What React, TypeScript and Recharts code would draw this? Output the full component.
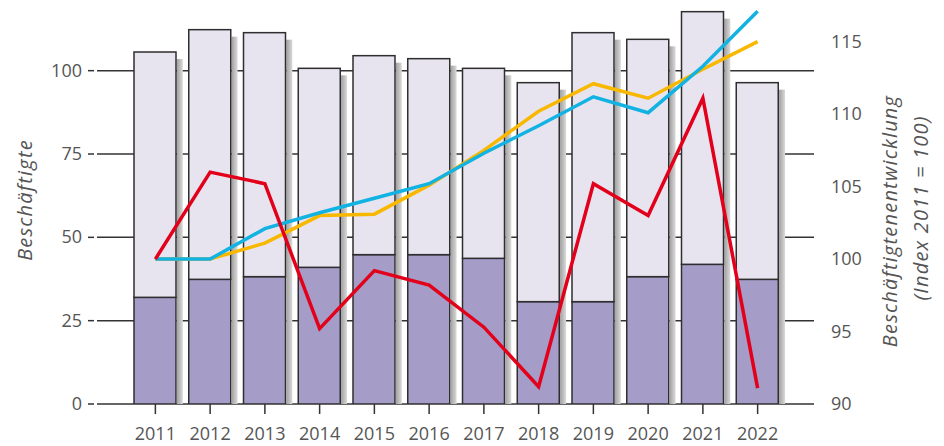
import { ComposedChart, Bar, Line, XAxis, YAxis, CartesianGrid, Label } from 'recharts'

// Jahre und Werte
const years = ['2011', '2012', '2013', '2014', '2015', '2016', '2017', '2018', '2019', '2020', '2021', '2022']
const beschaeftigteUnten = [32, 37.4, 38.2, 41, 44.8, 44.8, 43.7, 30.7, 30.7, 38.2, 41.9, 37.4]
const beschaeftigteGesamt = [105.6, 112.3, 111.4, 100.7, 104.5, 103.6, 100.7, 96.4, 111.4, 109.4, 117.7, 96.4]
const indexRot = [100, 106, 105.2, 95.2, 99.2, 98.2, 95.3, 91.2, 105.2, 103, 111.1, 91.1]
const indexBlau = [100, 100, 102.1, 103.2, 104.2, 105.2, 107.3, 109.2, 111.2, 110.1, 113.3, 117.1]
const indexGelb = [100, 100, 101.1, 103, 103.1, 105.1, 107.5, 110.2, 112.1, 111.1, 113.1, 115]

const leftTicks = [0, 25, 50, 75, 100]
const rightTicks = [90, 95, 100, 105, 110, 115]
const leftDomain = [0, 120]

const data = years.map((year, i) => ({
  year,
  unten: beschaeftigteUnten[i],
  oben: beschaeftigteGesamt[i] - beschaeftigteUnten[i],
  rot: indexRot[i],
  blau: indexBlau[i],
  gelb: indexGelb[i],
}))

const textColor = '#555'
const fontFamily = '"Open Sans", sans-serif'

const UntenShape = (props: any) => {
  const { x, y, width, height } = props
  return <rect x={x} y={y} width={width} height={height} fill="#a59cc8" stroke="#2e2e2e" strokeWidth={1.5} />
}

// oberer Teil inkl. grauem Schatten rechts
const ObenShape = (props: any) => {
  const { x, y, width, height, background } = props
  const base = background ? background.y + background.height : y + height
  return (
    <g>
      <rect x={x + width + 0.8} y={y + 7} width={6} height={Math.max(0, base - y - 7)} fill="url(#schatten)" />
      <rect x={x} y={y} width={width} height={height} fill="#e7e4f0" stroke="#2e2e2e" strokeWidth={1.5} />
    </g>
  )
}

const LeftTick = (props: any) => {
  const { x, y, payload } = props
  return (
    <g>
      <text x={x - 15} y={y} dy={6} textAnchor="end" fill={textColor} fontSize={18} fontFamily={fontFamily}>
        {payload.value}
      </text>
      <line x1={x - 9} x2={x - 3} y1={y} y2={y} stroke="#333" strokeWidth={1.5} />
    </g>
  )
}

const RightTick = (props: any) => {
  const { x, y, payload } = props
  return (
    <text x={x + 17} y={y} dy={6} textAnchor="start" fill={textColor} fontSize={18} fontFamily={fontFamily}>
      {payload.value}
    </text>
  )
}

const BottomTick = (props: any) => {
  const { x, y, payload } = props
  return (
    <text x={x} y={y} dy={24} textAnchor="middle" fill={textColor} fontSize={18} fontFamily={fontFamily}>
      {payload.value}
    </text>
  )
}

const titleStyle = {
  fill: textColor,
  fontSize: 20,
  fontStyle: 'italic',
  fontFamily,
  letterSpacing: 1.2,
}

const LeftTitle = () => (
  <text transform="translate(32, 200) rotate(-90)" textAnchor="middle" style={titleStyle}>
    Beschäftigte
  </text>
)

const RightTitle = () => (
  <g>
    <text transform="translate(897, 221) rotate(-90)" textAnchor="middle" style={titleStyle}>
      Beschäftigtenentwicklung
    </text>
    <text transform="translate(928, 208) rotate(-90)" textAnchor="middle" style={titleStyle}>
      (Index 2011 = 100)
    </text>
  </g>
)

// nur Linien an den linken Ticks, keine am oberen Rand
const gridLines = (props: any) => {
  const off = props.offset || { top: 4, height: 400 }
  const [lo, hi] = leftDomain
  return leftTicks.map((t) => off.top + off.height * (1 - (t - lo) / (hi - lo)))
}

export default function App() {
  return (
    <div style={{ position: 'absolute', left: 0, top: 0, width: 944, height: 446, background: '#fff' }}>
      <ComposedChart
        width={944}
        height={446}
        data={data}
        margin={{ top: 4, right: 70, bottom: 12, left: 37 }}
      >
        <defs>
          <linearGradient id="schatten" x1="0" y1="0" x2="1" y2="0">
            <stop offset="0%" stopColor="#a0a0a0" />
            <stop offset="100%" stopColor="#dadada" />
          </linearGradient>
        </defs>
        <CartesianGrid
          yAxisId="left"
          vertical={false}
          stroke="#333"
          strokeWidth={1.5}
          horizontalCoordinatesGenerator={gridLines}
        />
        <XAxis
          dataKey="year"
          height={30}
          padding={{ left: 31, right: 29 }}
          axisLine={false}
          tickSize={10}
          tickLine={{ stroke: '#333', strokeWidth: 1.5 }}
          tick={<BottomTick />}
          interval={0}
        />
        <YAxis
          yAxisId="left"
          orientation="left"
          width={60}
          domain={leftDomain}
          ticks={leftTicks}
          axisLine={false}
          tickLine={false}
          tickSize={0}
          tickMargin={0}
          tick={<LeftTick />}
          allowDataOverflow
        >
          <Label content={<LeftTitle />} />
        </YAxis>
        <YAxis
          yAxisId="right"
          orientation="right"
          width={60}
          domain={[90, 117.6]}
          ticks={rightTicks}
          axisLine={false}
          tickLine={false}
          tickSize={0}
          tickMargin={0}
          tick={<RightTick />}
          allowDataOverflow
        >
          <Label content={<RightTitle />} />
        </YAxis>
        <Bar yAxisId="left" dataKey="unten" stackId="a" barSize={42} shape={<UntenShape />} isAnimationActive={false} />
        <Bar yAxisId="left" dataKey="oben" stackId="a" barSize={42} shape={<ObenShape />} isAnimationActive={false} />
        <Line yAxisId="right" type="linear" dataKey="gelb" stroke="#f9b800" strokeWidth={3.5} dot={false} isAnimationActive={false} />
        <Line yAxisId="right" type="linear" dataKey="blau" stroke="#12b2e2" strokeWidth={3.5} dot={false} isAnimationActive={false} />
        <Line yAxisId="right" type="linear" dataKey="rot" stroke="#e2001a" strokeWidth={3.5} dot={false} isAnimationActive={false} />
      </ComposedChart>
    </div>
  )
}
